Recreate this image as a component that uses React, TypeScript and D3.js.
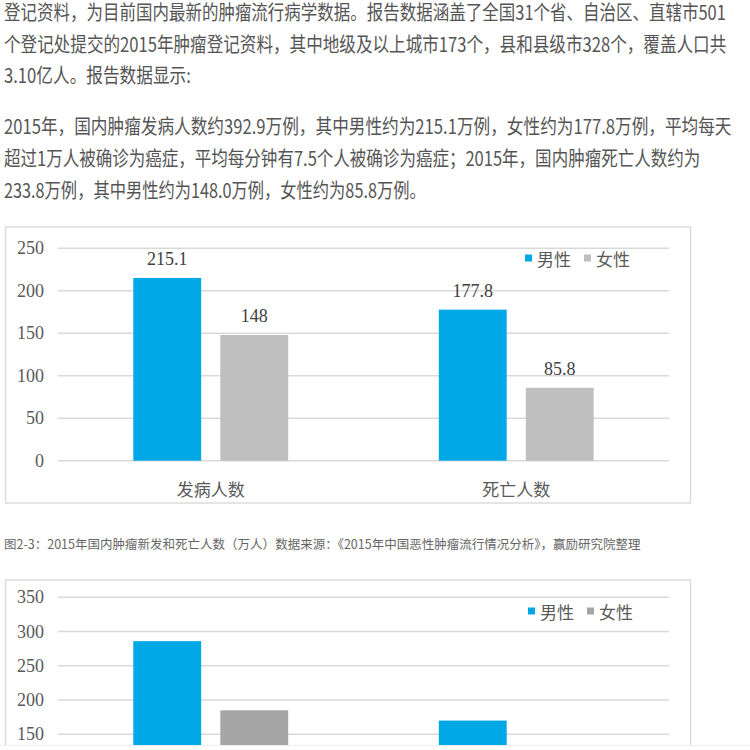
import React, { useLayoutEffect, useRef, useState } from 'react';
import * as d3 from 'd3';

// ---------- text content ----------
const PARA1 = [
  '登记资料，为目前国内最新的肿瘤流行病学数据。报告数据涵盖了全国31个省、自治区、直辖市501',
  '个登记处提交的2015年肿瘤登记资料，其中地级及以上城市173个，县和县级市328个，覆盖人口共',
  '3.10亿人。报告数据显示:',
];
const PARA2 = [
  '2015年，国内肿瘤发病人数约392.9万例，其中男性约为215.1万例，女性约为177.8万例，平均每天',
  '超过1万人被确诊为癌症，平均每分钟有7.5个人被确诊为癌症；2015年，国内肿瘤死亡人数约为',
  '233.8万例，其中男性约为148.0万例，女性约为85.8万例。',
];
const CAPTION = '图2-3：2015年国内肿瘤新发和死亡人数（万人）数据来源：《2015年中国恶性肿瘤流行情况分析》，赢励研究院整理';

// ---------- chart data ----------
const SERIES = ['男性', '女性'];
const CATS1 = ['发病人数', '死亡人数'];
const MALE1 = [215.1, 177.8];
const FEMALE1 = [148, 85.8];
const BAR_LABELS1 = [['215.1', '148'], ['177.8', '85.8']];
const TICKS1 = [0, 50, 100, 150, 200, 250];

const CATS2 = ['类别一', '类别二'];
const MALE2 = [286, 170];
const FEMALE2 = [185, 100];
const TICKS2 = [0, 50, 100, 150, 200, 250, 300, 350];

const SANS = '"Noto Sans CJK SC", "Noto Sans", sans-serif';
const SERIF = '"Liberation Serif", "DejaVu Serif", serif';
const BLUE = '#00A9E6';
const GRID = '#D9D9D9';
const VISIBLE_BOTTOM = 745;

function FitText(props: { x: number; y: number; width: number; size: number; fill: string; text: string }) {
  const ref = useRef<SVGTextElement>(null);
  const [sx, setSx] = useState(1);
  useLayoutEffect(() => {
    if (ref.current) {
      const w = ref.current.getComputedTextLength();
      if (w > 0) setSx(props.width / w);
    }
  }, [props.text, props.width]);
  return (
    <g transform={`translate(${props.x},${props.y}) scale(${sx},1)`}>
      <text ref={ref} x={0} y={0} dominantBaseline="central" fontFamily={SANS} fontSize={props.size} fill={props.fill}>{props.text}</text>
    </g>
  );
}

type ChartProps = {
  cats: string[];
  male: number[];
  female: number[];
  ticks: number[];
  maxV: number;
  y0: number;
  yTop: number;
  box: { x: number; y: number; w: number; h: number };
  gray: string;
  barLabels?: string[][];
  showCats: boolean;
  legendY: number;
  legendX: number;
};

function Chart(p: ChartProps) {
  const x0 = d3.scaleBand<string>().domain(p.cats).range([58, 669]).paddingInner(0.493).paddingOuter(0.2465);
  const x1 = d3.scaleBand<string>().domain(SERIES).range([0, x0.bandwidth()]).paddingInner(0.22);
  const y = d3.scaleLinear().domain([0, p.maxV]).range([p.y0, p.yTop]);
  const colors = [BLUE, p.gray];
  const vals = [p.male, p.female];
  const visibleTicks = p.ticks.filter((t) => y(t) <= VISIBLE_BOTTOM - 5);
  return (
    <g>
      <rect x={p.box.x} y={p.box.y} width={p.box.w} height={p.box.h} fill="white" stroke="#DCDCDC" strokeWidth={1.5} />
      {visibleTicks.map((t) => (
        <g key={t}>
          <line x1={58} x2={669} y1={y(t)} y2={y(t)} stroke={GRID} strokeWidth={1.5} />
          <text x={44} y={y(t)} textAnchor="end" dominantBaseline="central" fontFamily={SERIF} fontSize={18} fill="#595959">{t}</text>
        </g>
      ))}
      {p.cats.map((c, ci) => (
        <g key={c}>
          {SERIES.map((s, si) => {
            const v = vals[si][ci];
            const bx = (x0(c) as number) + (x1(s) as number);
            return (
              <g key={s}>
                <rect x={bx} y={y(v)} width={x1.bandwidth()} height={p.y0 - y(v)} fill={colors[si]} />
                {p.barLabels && (
                  <text x={bx + x1.bandwidth() / 2} y={y(v) - 13} textAnchor="middle" fontFamily={SERIF} fontSize={18} fill="#404040">{p.barLabels[ci][si]}</text>
                )}
              </g>
            );
          })}
          {p.showCats && (
            <text x={(x0(c) as number) + x0.bandwidth() / 2} y={488} textAnchor="middle" dominantBaseline="central" fontFamily={SANS} fontSize={17} fill="#595959">{c}</text>
          )}
        </g>
      ))}
      {SERIES.map((s, si) => (
        <g key={s} transform={`translate(${p.legendX + si * 59},${p.legendY})`}>
          <rect x={0} y={-3.5} width={7} height={7} fill={colors[si]} />
          <text x={12} y={0} dominantBaseline="central" fontFamily={SANS} fontSize={17} fill="#595959">{s}</text>
        </g>
      ))}
    </g>
  );
}

export default function App() {
  const p1Y = [11.5, 43, 74];
  const p1W = [722, 723, 187];
  const p2Y = [125, 157, 189];
  const p2W = [728, 697, 422];
  return (
    <svg width={750} height={750} style={{ position: 'absolute', left: 0, top: 0, background: 'white' }}>
      <rect width={750} height={750} fill="white" />
      {PARA1.map((t, i) => (
        <FitText key={'a' + i} x={4} y={p1Y[i]} width={p1W[i]} size={20} fill="#555" text={t} />
      ))}
      {PARA2.map((t, i) => (
        <FitText key={'b' + i} x={4} y={p2Y[i]} width={p2W[i]} size={20} fill="#555" text={t} />
      ))}
      <Chart
        cats={CATS1} male={MALE1} female={FEMALE1} ticks={TICKS1} maxV={250}
        y0={460.7} yTop={248.3}
        box={{ x: 5.5, y: 227, w: 685, h: 276 }}
        gray="#BFBFBF" barLabels={BAR_LABELS1} showCats={true}
        legendY={258} legendX={525}
      />
      <FitText x={4} y={544} width={637} size={12.5} fill="#666" text={CAPTION} />
      <Chart
        cats={CATS2} male={MALE2} female={FEMALE2} ticks={TICKS2} maxV={350}
        y0={837} yTop={597.3}
        box={{ x: 5.5, y: 580, w: 685, h: 300 }}
        gray="#A6A6A6" showCats={false}
        legendY={611} legendX={528}
      />
      <rect x={0} y={VISIBLE_BOTTOM} width={750} height={5} fill="white" />
      <line x1={0} x2={750} y1={VISIBLE_BOTTOM + 0.5} y2={VISIBLE_BOTTOM + 0.5} stroke="#EEEEEE" strokeWidth={1} />
    </svg>
  );
}
